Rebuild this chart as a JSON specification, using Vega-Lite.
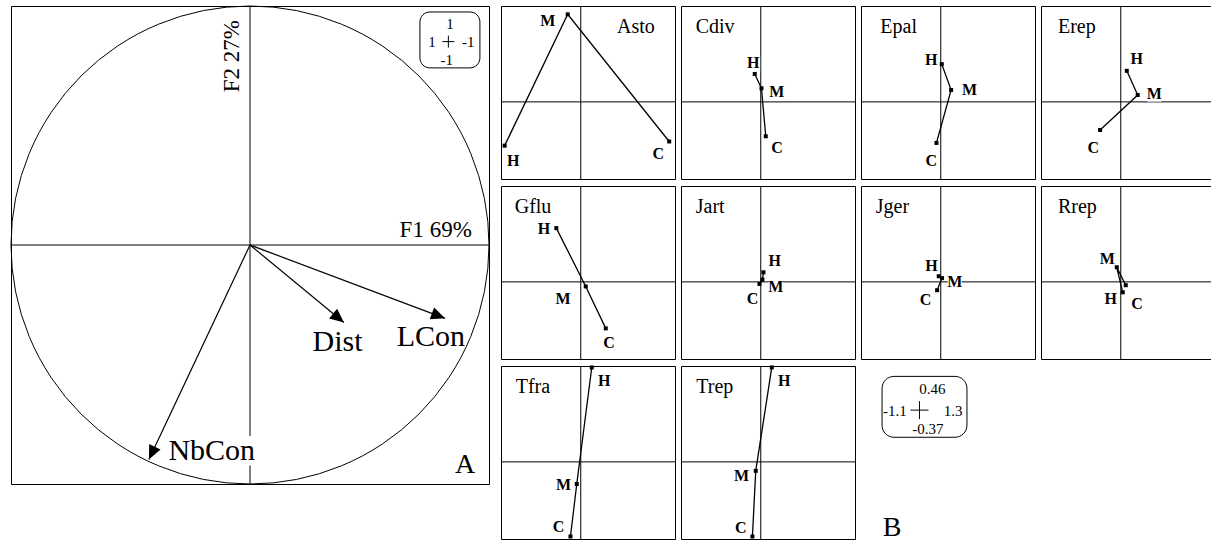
{
"$schema":"https://vega.github.io/schema/vega-lite/v6.json",
"padding":{"left":8,"top":3,"right":0,"bottom":0},
"config":{"view":{"stroke":"black","strokeWidth":1},"text":{"font":"Liberation Serif","color":"black"}},
"datasets":{
"arrows":[
{"v":"LCon","x":0.816,"y":-0.307,"lx":0.757,"ly":-0.387},
{"v":"Dist","x":0.393,"y":-0.324,"lx":0.366,"ly":-0.404},
{"v":"NbCon","x":-0.423,"y":-0.897,"lx":-0.16,"ly":-0.861}
],
"traj":[
{"sp":"Asto","o":1,"lab":"H","x":-1.05,"y":-0.21,"lx":-0.93,"ly":-0.283},
{"sp":"Asto","o":2,"lab":"M","x":-0.18,"y":0.42,"lx":-0.455,"ly":0.388},
{"sp":"Asto","o":3,"lab":"C","x":1.22,"y":-0.19,"lx":1.07,"ly":-0.248},
{"sp":"Cdiv","o":1,"lab":"H","x":-0.083,"y":0.134,"lx":-0.105,"ly":0.186},
{"sp":"Cdiv","o":2,"lab":"M","x":0.01,"y":0.065,"lx":0.221,"ly":0.046},
{"sp":"Cdiv","o":3,"lab":"C","x":0.069,"y":-0.165,"lx":0.226,"ly":-0.219},
{"sp":"Epal","o":1,"lab":"H","x":0.014,"y":0.181,"lx":-0.132,"ly":0.202},
{"sp":"Epal","o":2,"lab":"M","x":0.143,"y":0.057,"lx":0.396,"ly":0.056},
{"sp":"Epal","o":3,"lab":"C","x":-0.059,"y":-0.197,"lx":-0.132,"ly":-0.283},
{"sp":"Erep","o":1,"lab":"H","x":0.083,"y":0.149,"lx":0.221,"ly":0.205},
{"sp":"Erep","o":2,"lab":"M","x":0.234,"y":0.033,"lx":0.463,"ly":0.04},
{"sp":"Erep","o":3,"lab":"C","x":-0.285,"y":-0.135,"lx":-0.378,"ly":-0.219},
{"sp":"Gflu","o":1,"lab":"H","x":-0.337,"y":0.258,"lx":-0.506,"ly":0.253},
{"sp":"Gflu","o":2,"lab":"M","x":0.069,"y":-0.022,"lx":-0.244,"ly":-0.08},
{"sp":"Gflu","o":3,"lab":"C","x":0.345,"y":-0.223,"lx":0.39,"ly":-0.291},
{"sp":"Jart","o":1,"lab":"H","x":0.037,"y":0.046,"lx":0.193,"ly":0.098},
{"sp":"Jart","o":2,"lab":"M","x":0.023,"y":0.011,"lx":0.207,"ly":-0.024},
{"sp":"Jart","o":3,"lab":"C","x":-0.018,"y":-0.01,"lx":-0.114,"ly":-0.084},
{"sp":"Jger","o":1,"lab":"H","x":-0.028,"y":0.027,"lx":-0.128,"ly":0.075},
{"sp":"Jger","o":2,"lab":"M","x":0.017,"y":0.018,"lx":0.193,"ly":0.0},
{"sp":"Jger","o":3,"lab":"C","x":-0.05,"y":-0.04,"lx":-0.211,"ly":-0.085},
{"sp":"Rrep","o":1,"lab":"H","x":0.028,"y":-0.05,"lx":-0.138,"ly":-0.081},
{"sp":"Rrep","o":2,"lab":"M","x":-0.055,"y":0.07,"lx":-0.185,"ly":0.111},
{"sp":"Rrep","o":3,"lab":"C","x":0.069,"y":-0.016,"lx":0.225,"ly":-0.104},
{"sp":"Tfra","o":1,"lab":"H","x":0.152,"y":0.453,"lx":0.323,"ly":0.39},
{"sp":"Tfra","o":2,"lab":"M","x":-0.055,"y":-0.106,"lx":-0.239,"ly":-0.111},
{"sp":"Tfra","o":3,"lab":"C","x":-0.142,"y":-0.358,"lx":-0.308,"ly":-0.311},
{"sp":"Trep","o":1,"lab":"H","x":0.152,"y":0.453,"lx":0.323,"ly":0.39},
{"sp":"Trep","o":2,"lab":"M","x":-0.069,"y":-0.043,"lx":-0.266,"ly":-0.067},
{"sp":"Trep","o":3,"lab":"C","x":-0.115,"y":-0.358,"lx":-0.276,"ly":-0.317}
]},
"spacing":8,
"hconcat":[
{"width":478,"height":478,"layer":[
{"data":{"values":[{}]},"mark":{"type":"rule","color":"black","strokeWidth":1},"encoding":{"x":{"datum":0,"type":"quantitative","scale":{"domain":[-1,1],"nice":false,"zero":false},"axis":null}}},
{"data":{"values":[{}]},"mark":{"type":"rule","color":"black","strokeWidth":1},"encoding":{"y":{"datum":0,"type":"quantitative","scale":{"domain":[-1,1],"nice":false,"zero":false},"axis":null}}},
{"data":{"values":[{}]},"mark":{"type":"point","shape":"circle","size":228484,"filled":false,"stroke":"black","strokeWidth":1,"opacity":1},"encoding":{"x":{"datum":0,"type":"quantitative","scale":{"domain":[-1,1],"nice":false,"zero":false},"axis":null},"y":{"datum":0,"type":"quantitative","scale":{"domain":[-1,1],"nice":false,"zero":false},"axis":null}}},
{"data":{"name":"arrows"},"transform":[{"filter":"datum.v==='NbCon'"}],"mark":{"type":"point","shape":"M-1,-0.32L1,-0.32L1,0.32L-1,0.32Z","size":8464,"filled":true,"color":"white","opacity":1,"strokeWidth":0},"encoding":{"x":{"field":"lx","type":"quantitative","scale":{"domain":[-1,1],"nice":false,"zero":false},"axis":null},"y":{"field":"ly","type":"quantitative","scale":{"domain":[-1,1],"nice":false,"zero":false},"axis":null}}},
{"data":{"name":"arrows"},"mark":{"type":"rule","color":"black","strokeWidth":1.2},"encoding":{"x":{"field":"x","type":"quantitative","scale":{"domain":[-1,1],"nice":false,"zero":false},"axis":null},"y":{"field":"y","type":"quantitative","scale":{"domain":[-1,1],"nice":false,"zero":false},"axis":null},"x2":{"datum":0},"y2":{"datum":0}}},
{"data":{"name":"arrows"},"transform":[{"calculate":"90 - atan2(datum.y, datum.x)*180/PI","as":"ang"}],"mark":{"type":"point","shape":"M0,0L-0.45,1L0.45,1Z","size":784,"filled":true,"color":"black","opacity":1},"encoding":{"x":{"field":"x","type":"quantitative","scale":{"domain":[-1,1],"nice":false,"zero":false},"axis":null},"y":{"field":"y","type":"quantitative","scale":{"domain":[-1,1],"nice":false,"zero":false},"axis":null},"angle":{"field":"ang","type":"quantitative","scale":null}}},
{"data":{"name":"arrows"},"mark":{"type":"text","fontSize":30,"align":"center","baseline":"middle"},"encoding":{"x":{"field":"lx","type":"quantitative","scale":{"domain":[-1,1],"nice":false,"zero":false},"axis":null},"y":{"field":"ly","type":"quantitative","scale":{"domain":[-1,1],"nice":false,"zero":false},"axis":null},"text":{"field":"v","type":"nominal"}}},
{"data":{"values":[{}]},"mark":{"type":"text","text":"F1 69%","fontSize":23,"align":"right","baseline":"alphabetic"},"encoding":{"x":{"datum":0.928,"type":"quantitative","scale":{"domain":[-1,1],"nice":false,"zero":false},"axis":null},"y":{"datum":0.032,"type":"quantitative","scale":{"domain":[-1,1],"nice":false,"zero":false},"axis":null}}},
{"data":{"values":[{}]},"mark":{"type":"text","text":"F2 27%","fontSize":23,"align":"right","baseline":"alphabetic","angle":270},"encoding":{"x":{"datum":-0.045,"type":"quantitative","scale":{"domain":[-1,1],"nice":false,"zero":false},"axis":null},"y":{"datum":0.941,"type":"quantitative","scale":{"domain":[-1,1],"nice":false,"zero":false},"axis":null}}},
{"data":{"values":[{}]},"mark":{"type":"rect","cornerRadius":10,"fill":"white","stroke":"black","strokeWidth":1},"encoding":{"x":{"datum":0.711,"type":"quantitative","scale":{"domain":[-1,1],"nice":false,"zero":false},"axis":null},"x2":{"datum":0.962},"y":{"datum":0.975,"type":"quantitative","scale":{"domain":[-1,1],"nice":false,"zero":false},"axis":null},"y2":{"datum":0.741}}},
{"data":{"values":[{}]},"mark":{"type":"text","text":"1","fontSize":15,"align":"center","baseline":"middle"},"encoding":{"x":{"datum":0.837,"type":"quantitative","scale":{"domain":[-1,1],"nice":false,"zero":false},"axis":null},"y":{"datum":0.925,"type":"quantitative","scale":{"domain":[-1,1],"nice":false,"zero":false},"axis":null}}},
{"data":{"values":[{}]},"mark":{"type":"text","text":"1","fontSize":15,"align":"center","baseline":"middle"},"encoding":{"x":{"datum":0.762,"type":"quantitative","scale":{"domain":[-1,1],"nice":false,"zero":false},"axis":null},"y":{"datum":0.851,"type":"quantitative","scale":{"domain":[-1,1],"nice":false,"zero":false},"axis":null}}},
{"data":{"values":[{}]},"mark":{"type":"text","text":"-1","fontSize":15,"align":"center","baseline":"middle"},"encoding":{"x":{"datum":0.913,"type":"quantitative","scale":{"domain":[-1,1],"nice":false,"zero":false},"axis":null},"y":{"datum":0.851,"type":"quantitative","scale":{"domain":[-1,1],"nice":false,"zero":false},"axis":null}}},
{"data":{"values":[{}]},"mark":{"type":"text","text":"-1","fontSize":15,"align":"center","baseline":"middle"},"encoding":{"x":{"datum":0.823,"type":"quantitative","scale":{"domain":[-1,1],"nice":false,"zero":false},"axis":null},"y":{"datum":0.774,"type":"quantitative","scale":{"domain":[-1,1],"nice":false,"zero":false},"axis":null}}},
{"data":{"values":[{}]},"mark":{"type":"point","shape":"M-1,0L1,0M0,-1L0,1","size":144,"filled":false,"stroke":"black","strokeWidth":1,"opacity":1},"encoding":{"x":{"datum":0.83,"type":"quantitative","scale":{"domain":[-1,1],"nice":false,"zero":false},"axis":null},"y":{"datum":0.851,"type":"quantitative","scale":{"domain":[-1,1],"nice":false,"zero":false},"axis":null}}},
{"data":{"values":[{}]},"mark":{"type":"text","text":"A","fontSize":28,"align":"center","baseline":"alphabetic"},"encoding":{"x":{"datum":0.9,"type":"quantitative","scale":{"domain":[-1,1],"nice":false,"zero":false},"axis":null},"y":{"datum":-0.954,"type":"quantitative","scale":{"domain":[-1,1],"nice":false,"zero":false},"axis":null}}}
]},
{"columns":4,"spacing":{"row":7,"column":6},"bounds":"flush","concat":[
{"width":174,"height":173,"layer":[
{"data":{"values":[{}]},"mark":{"type":"rule","color":"black","strokeWidth":1},"encoding":{"x":{"datum":0,"type":"quantitative","scale":{"domain":[-1.1,1.3],"nice":false,"zero":false},"axis":null}}},
{"data":{"values":[{}]},"mark":{"type":"rule","color":"black","strokeWidth":1},"encoding":{"y":{"datum":0,"type":"quantitative","scale":{"domain":[-0.37,0.46],"nice":false,"zero":false},"axis":null}}},
{"data":{"name":"traj"},"transform":[{"filter":"datum.sp==='Asto'"}],"mark":{"type":"point","shape":"M-1,-1.15L1,-1.15L1,1.15L-1,1.15Z","size":196,"filled":true,"color":"white","opacity":1,"strokeWidth":0},"encoding":{"x":{"field":"lx","type":"quantitative","scale":{"domain":[-1.1,1.3],"nice":false,"zero":false},"axis":null},"y":{"field":"ly","type":"quantitative","scale":{"domain":[-0.37,0.46],"nice":false,"zero":false},"axis":null}}},
{"data":{"name":"traj"},"transform":[{"filter":"datum.sp==='Asto'"}],"mark":{"type":"line","color":"black","strokeWidth":1.3},"encoding":{"x":{"field":"x","type":"quantitative","scale":{"domain":[-1.1,1.3],"nice":false,"zero":false},"axis":null},"y":{"field":"y","type":"quantitative","scale":{"domain":[-0.37,0.46],"nice":false,"zero":false},"axis":null},"order":{"field":"o","type":"quantitative"}}},
{"data":{"name":"traj"},"transform":[{"filter":"datum.sp==='Asto'"}],"mark":{"type":"point","shape":"square","size":16,"filled":true,"color":"black","opacity":1},"encoding":{"x":{"field":"x","type":"quantitative","scale":{"domain":[-1.1,1.3],"nice":false,"zero":false},"axis":null},"y":{"field":"y","type":"quantitative","scale":{"domain":[-0.37,0.46],"nice":false,"zero":false},"axis":null}}},
{"data":{"name":"traj"},"transform":[{"filter":"datum.sp==='Asto'"}],"mark":{"type":"text","fontSize":16,"fontWeight":"bold","align":"center","baseline":"middle"},"encoding":{"x":{"field":"lx","type":"quantitative","scale":{"domain":[-1.1,1.3],"nice":false,"zero":false},"axis":null},"y":{"field":"ly","type":"quantitative","scale":{"domain":[-0.37,0.46],"nice":false,"zero":false},"axis":null},"text":{"field":"lab","type":"nominal"}}},
{"data":{"values":[{}]},"mark":{"type":"text","text":"Asto","fontSize":20,"align":"left","baseline":"alphabetic"},"encoding":{"x":{"datum":0.5,"type":"quantitative","scale":{"domain":[-1.1,1.3],"nice":false,"zero":false},"axis":null},"y":{"datum":0.33,"type":"quantitative","scale":{"domain":[-0.37,0.46],"nice":false,"zero":false},"axis":null}}}
]},
{"width":174,"height":173,"layer":[
{"data":{"values":[{}]},"mark":{"type":"rule","color":"black","strokeWidth":1},"encoding":{"x":{"datum":0,"type":"quantitative","scale":{"domain":[-1.1,1.3],"nice":false,"zero":false},"axis":null}}},
{"data":{"values":[{}]},"mark":{"type":"rule","color":"black","strokeWidth":1},"encoding":{"y":{"datum":0,"type":"quantitative","scale":{"domain":[-0.37,0.46],"nice":false,"zero":false},"axis":null}}},
{"data":{"name":"traj"},"transform":[{"filter":"datum.sp==='Cdiv'"}],"mark":{"type":"point","shape":"M-1,-1.15L1,-1.15L1,1.15L-1,1.15Z","size":196,"filled":true,"color":"white","opacity":1,"strokeWidth":0},"encoding":{"x":{"field":"lx","type":"quantitative","scale":{"domain":[-1.1,1.3],"nice":false,"zero":false},"axis":null},"y":{"field":"ly","type":"quantitative","scale":{"domain":[-0.37,0.46],"nice":false,"zero":false},"axis":null}}},
{"data":{"name":"traj"},"transform":[{"filter":"datum.sp==='Cdiv'"}],"mark":{"type":"line","color":"black","strokeWidth":1.3},"encoding":{"x":{"field":"x","type":"quantitative","scale":{"domain":[-1.1,1.3],"nice":false,"zero":false},"axis":null},"y":{"field":"y","type":"quantitative","scale":{"domain":[-0.37,0.46],"nice":false,"zero":false},"axis":null},"order":{"field":"o","type":"quantitative"}}},
{"data":{"name":"traj"},"transform":[{"filter":"datum.sp==='Cdiv'"}],"mark":{"type":"point","shape":"square","size":16,"filled":true,"color":"black","opacity":1},"encoding":{"x":{"field":"x","type":"quantitative","scale":{"domain":[-1.1,1.3],"nice":false,"zero":false},"axis":null},"y":{"field":"y","type":"quantitative","scale":{"domain":[-0.37,0.46],"nice":false,"zero":false},"axis":null}}},
{"data":{"name":"traj"},"transform":[{"filter":"datum.sp==='Cdiv'"}],"mark":{"type":"text","fontSize":16,"fontWeight":"bold","align":"center","baseline":"middle"},"encoding":{"x":{"field":"lx","type":"quantitative","scale":{"domain":[-1.1,1.3],"nice":false,"zero":false},"axis":null},"y":{"field":"ly","type":"quantitative","scale":{"domain":[-0.37,0.46],"nice":false,"zero":false},"axis":null},"text":{"field":"lab","type":"nominal"}}},
{"data":{"values":[{}]},"mark":{"type":"text","text":"Cdiv","fontSize":20,"align":"left","baseline":"alphabetic"},"encoding":{"x":{"datum":-0.897,"type":"quantitative","scale":{"domain":[-1.1,1.3],"nice":false,"zero":false},"axis":null},"y":{"datum":0.33,"type":"quantitative","scale":{"domain":[-0.37,0.46],"nice":false,"zero":false},"axis":null}}}
]},
{"width":174,"height":173,"layer":[
{"data":{"values":[{}]},"mark":{"type":"rule","color":"black","strokeWidth":1},"encoding":{"x":{"datum":0,"type":"quantitative","scale":{"domain":[-1.1,1.3],"nice":false,"zero":false},"axis":null}}},
{"data":{"values":[{}]},"mark":{"type":"rule","color":"black","strokeWidth":1},"encoding":{"y":{"datum":0,"type":"quantitative","scale":{"domain":[-0.37,0.46],"nice":false,"zero":false},"axis":null}}},
{"data":{"name":"traj"},"transform":[{"filter":"datum.sp==='Epal'"}],"mark":{"type":"point","shape":"M-1,-1.15L1,-1.15L1,1.15L-1,1.15Z","size":196,"filled":true,"color":"white","opacity":1,"strokeWidth":0},"encoding":{"x":{"field":"lx","type":"quantitative","scale":{"domain":[-1.1,1.3],"nice":false,"zero":false},"axis":null},"y":{"field":"ly","type":"quantitative","scale":{"domain":[-0.37,0.46],"nice":false,"zero":false},"axis":null}}},
{"data":{"name":"traj"},"transform":[{"filter":"datum.sp==='Epal'"}],"mark":{"type":"line","color":"black","strokeWidth":1.3},"encoding":{"x":{"field":"x","type":"quantitative","scale":{"domain":[-1.1,1.3],"nice":false,"zero":false},"axis":null},"y":{"field":"y","type":"quantitative","scale":{"domain":[-0.37,0.46],"nice":false,"zero":false},"axis":null},"order":{"field":"o","type":"quantitative"}}},
{"data":{"name":"traj"},"transform":[{"filter":"datum.sp==='Epal'"}],"mark":{"type":"point","shape":"square","size":16,"filled":true,"color":"black","opacity":1},"encoding":{"x":{"field":"x","type":"quantitative","scale":{"domain":[-1.1,1.3],"nice":false,"zero":false},"axis":null},"y":{"field":"y","type":"quantitative","scale":{"domain":[-0.37,0.46],"nice":false,"zero":false},"axis":null}}},
{"data":{"name":"traj"},"transform":[{"filter":"datum.sp==='Epal'"}],"mark":{"type":"text","fontSize":16,"fontWeight":"bold","align":"center","baseline":"middle"},"encoding":{"x":{"field":"lx","type":"quantitative","scale":{"domain":[-1.1,1.3],"nice":false,"zero":false},"axis":null},"y":{"field":"ly","type":"quantitative","scale":{"domain":[-0.37,0.46],"nice":false,"zero":false},"axis":null},"text":{"field":"lab","type":"nominal"}}},
{"data":{"values":[{}]},"mark":{"type":"text","text":"Epal","fontSize":20,"align":"left","baseline":"alphabetic"},"encoding":{"x":{"datum":-0.834,"type":"quantitative","scale":{"domain":[-1.1,1.3],"nice":false,"zero":false},"axis":null},"y":{"datum":0.33,"type":"quantitative","scale":{"domain":[-0.37,0.46],"nice":false,"zero":false},"axis":null}}}
]},
{"width":174,"height":173,"layer":[
{"data":{"values":[{}]},"mark":{"type":"rule","color":"black","strokeWidth":1},"encoding":{"x":{"datum":0,"type":"quantitative","scale":{"domain":[-1.1,1.3],"nice":false,"zero":false},"axis":null}}},
{"data":{"values":[{}]},"mark":{"type":"rule","color":"black","strokeWidth":1},"encoding":{"y":{"datum":0,"type":"quantitative","scale":{"domain":[-0.37,0.46],"nice":false,"zero":false},"axis":null}}},
{"data":{"name":"traj"},"transform":[{"filter":"datum.sp==='Erep'"}],"mark":{"type":"point","shape":"M-1,-1.15L1,-1.15L1,1.15L-1,1.15Z","size":196,"filled":true,"color":"white","opacity":1,"strokeWidth":0},"encoding":{"x":{"field":"lx","type":"quantitative","scale":{"domain":[-1.1,1.3],"nice":false,"zero":false},"axis":null},"y":{"field":"ly","type":"quantitative","scale":{"domain":[-0.37,0.46],"nice":false,"zero":false},"axis":null}}},
{"data":{"name":"traj"},"transform":[{"filter":"datum.sp==='Erep'"}],"mark":{"type":"line","color":"black","strokeWidth":1.3},"encoding":{"x":{"field":"x","type":"quantitative","scale":{"domain":[-1.1,1.3],"nice":false,"zero":false},"axis":null},"y":{"field":"y","type":"quantitative","scale":{"domain":[-0.37,0.46],"nice":false,"zero":false},"axis":null},"order":{"field":"o","type":"quantitative"}}},
{"data":{"name":"traj"},"transform":[{"filter":"datum.sp==='Erep'"}],"mark":{"type":"point","shape":"square","size":16,"filled":true,"color":"black","opacity":1},"encoding":{"x":{"field":"x","type":"quantitative","scale":{"domain":[-1.1,1.3],"nice":false,"zero":false},"axis":null},"y":{"field":"y","type":"quantitative","scale":{"domain":[-0.37,0.46],"nice":false,"zero":false},"axis":null}}},
{"data":{"name":"traj"},"transform":[{"filter":"datum.sp==='Erep'"}],"mark":{"type":"text","fontSize":16,"fontWeight":"bold","align":"center","baseline":"middle"},"encoding":{"x":{"field":"lx","type":"quantitative","scale":{"domain":[-1.1,1.3],"nice":false,"zero":false},"axis":null},"y":{"field":"ly","type":"quantitative","scale":{"domain":[-0.37,0.46],"nice":false,"zero":false},"axis":null},"text":{"field":"lab","type":"nominal"}}},
{"data":{"values":[{}]},"mark":{"type":"text","text":"Erep","fontSize":20,"align":"left","baseline":"alphabetic"},"encoding":{"x":{"datum":-0.866,"type":"quantitative","scale":{"domain":[-1.1,1.3],"nice":false,"zero":false},"axis":null},"y":{"datum":0.33,"type":"quantitative","scale":{"domain":[-0.37,0.46],"nice":false,"zero":false},"axis":null}}}
]},
{"width":174,"height":173,"layer":[
{"data":{"values":[{}]},"mark":{"type":"rule","color":"black","strokeWidth":1},"encoding":{"x":{"datum":0,"type":"quantitative","scale":{"domain":[-1.1,1.3],"nice":false,"zero":false},"axis":null}}},
{"data":{"values":[{}]},"mark":{"type":"rule","color":"black","strokeWidth":1},"encoding":{"y":{"datum":0,"type":"quantitative","scale":{"domain":[-0.37,0.46],"nice":false,"zero":false},"axis":null}}},
{"data":{"name":"traj"},"transform":[{"filter":"datum.sp==='Gflu'"}],"mark":{"type":"point","shape":"M-1,-1.15L1,-1.15L1,1.15L-1,1.15Z","size":196,"filled":true,"color":"white","opacity":1,"strokeWidth":0},"encoding":{"x":{"field":"lx","type":"quantitative","scale":{"domain":[-1.1,1.3],"nice":false,"zero":false},"axis":null},"y":{"field":"ly","type":"quantitative","scale":{"domain":[-0.37,0.46],"nice":false,"zero":false},"axis":null}}},
{"data":{"name":"traj"},"transform":[{"filter":"datum.sp==='Gflu'"}],"mark":{"type":"line","color":"black","strokeWidth":1.3},"encoding":{"x":{"field":"x","type":"quantitative","scale":{"domain":[-1.1,1.3],"nice":false,"zero":false},"axis":null},"y":{"field":"y","type":"quantitative","scale":{"domain":[-0.37,0.46],"nice":false,"zero":false},"axis":null},"order":{"field":"o","type":"quantitative"}}},
{"data":{"name":"traj"},"transform":[{"filter":"datum.sp==='Gflu'"}],"mark":{"type":"point","shape":"square","size":16,"filled":true,"color":"black","opacity":1},"encoding":{"x":{"field":"x","type":"quantitative","scale":{"domain":[-1.1,1.3],"nice":false,"zero":false},"axis":null},"y":{"field":"y","type":"quantitative","scale":{"domain":[-0.37,0.46],"nice":false,"zero":false},"axis":null}}},
{"data":{"name":"traj"},"transform":[{"filter":"datum.sp==='Gflu'"}],"mark":{"type":"text","fontSize":16,"fontWeight":"bold","align":"center","baseline":"middle"},"encoding":{"x":{"field":"lx","type":"quantitative","scale":{"domain":[-1.1,1.3],"nice":false,"zero":false},"axis":null},"y":{"field":"ly","type":"quantitative","scale":{"domain":[-0.37,0.46],"nice":false,"zero":false},"axis":null},"text":{"field":"lab","type":"nominal"}}},
{"data":{"values":[{}]},"mark":{"type":"text","text":"Gflu","fontSize":20,"align":"left","baseline":"alphabetic"},"encoding":{"x":{"datum":-0.911,"type":"quantitative","scale":{"domain":[-1.1,1.3],"nice":false,"zero":false},"axis":null},"y":{"datum":0.33,"type":"quantitative","scale":{"domain":[-0.37,0.46],"nice":false,"zero":false},"axis":null}}}
]},
{"width":174,"height":173,"layer":[
{"data":{"values":[{}]},"mark":{"type":"rule","color":"black","strokeWidth":1},"encoding":{"x":{"datum":0,"type":"quantitative","scale":{"domain":[-1.1,1.3],"nice":false,"zero":false},"axis":null}}},
{"data":{"values":[{}]},"mark":{"type":"rule","color":"black","strokeWidth":1},"encoding":{"y":{"datum":0,"type":"quantitative","scale":{"domain":[-0.37,0.46],"nice":false,"zero":false},"axis":null}}},
{"data":{"name":"traj"},"transform":[{"filter":"datum.sp==='Jart'"}],"mark":{"type":"point","shape":"M-1,-1.15L1,-1.15L1,1.15L-1,1.15Z","size":196,"filled":true,"color":"white","opacity":1,"strokeWidth":0},"encoding":{"x":{"field":"lx","type":"quantitative","scale":{"domain":[-1.1,1.3],"nice":false,"zero":false},"axis":null},"y":{"field":"ly","type":"quantitative","scale":{"domain":[-0.37,0.46],"nice":false,"zero":false},"axis":null}}},
{"data":{"name":"traj"},"transform":[{"filter":"datum.sp==='Jart'"}],"mark":{"type":"line","color":"black","strokeWidth":1.3},"encoding":{"x":{"field":"x","type":"quantitative","scale":{"domain":[-1.1,1.3],"nice":false,"zero":false},"axis":null},"y":{"field":"y","type":"quantitative","scale":{"domain":[-0.37,0.46],"nice":false,"zero":false},"axis":null},"order":{"field":"o","type":"quantitative"}}},
{"data":{"name":"traj"},"transform":[{"filter":"datum.sp==='Jart'"}],"mark":{"type":"point","shape":"square","size":16,"filled":true,"color":"black","opacity":1},"encoding":{"x":{"field":"x","type":"quantitative","scale":{"domain":[-1.1,1.3],"nice":false,"zero":false},"axis":null},"y":{"field":"y","type":"quantitative","scale":{"domain":[-0.37,0.46],"nice":false,"zero":false},"axis":null}}},
{"data":{"name":"traj"},"transform":[{"filter":"datum.sp==='Jart'"}],"mark":{"type":"text","fontSize":16,"fontWeight":"bold","align":"center","baseline":"middle"},"encoding":{"x":{"field":"lx","type":"quantitative","scale":{"domain":[-1.1,1.3],"nice":false,"zero":false},"axis":null},"y":{"field":"ly","type":"quantitative","scale":{"domain":[-0.37,0.46],"nice":false,"zero":false},"axis":null},"text":{"field":"lab","type":"nominal"}}},
{"data":{"values":[{}]},"mark":{"type":"text","text":"Jart","fontSize":20,"align":"left","baseline":"alphabetic"},"encoding":{"x":{"datum":-0.897,"type":"quantitative","scale":{"domain":[-1.1,1.3],"nice":false,"zero":false},"axis":null},"y":{"datum":0.33,"type":"quantitative","scale":{"domain":[-0.37,0.46],"nice":false,"zero":false},"axis":null}}}
]},
{"width":174,"height":173,"layer":[
{"data":{"values":[{}]},"mark":{"type":"rule","color":"black","strokeWidth":1},"encoding":{"x":{"datum":0,"type":"quantitative","scale":{"domain":[-1.1,1.3],"nice":false,"zero":false},"axis":null}}},
{"data":{"values":[{}]},"mark":{"type":"rule","color":"black","strokeWidth":1},"encoding":{"y":{"datum":0,"type":"quantitative","scale":{"domain":[-0.37,0.46],"nice":false,"zero":false},"axis":null}}},
{"data":{"name":"traj"},"transform":[{"filter":"datum.sp==='Jger'"}],"mark":{"type":"point","shape":"M-1,-1.15L1,-1.15L1,1.15L-1,1.15Z","size":196,"filled":true,"color":"white","opacity":1,"strokeWidth":0},"encoding":{"x":{"field":"lx","type":"quantitative","scale":{"domain":[-1.1,1.3],"nice":false,"zero":false},"axis":null},"y":{"field":"ly","type":"quantitative","scale":{"domain":[-0.37,0.46],"nice":false,"zero":false},"axis":null}}},
{"data":{"name":"traj"},"transform":[{"filter":"datum.sp==='Jger'"}],"mark":{"type":"line","color":"black","strokeWidth":1.3},"encoding":{"x":{"field":"x","type":"quantitative","scale":{"domain":[-1.1,1.3],"nice":false,"zero":false},"axis":null},"y":{"field":"y","type":"quantitative","scale":{"domain":[-0.37,0.46],"nice":false,"zero":false},"axis":null},"order":{"field":"o","type":"quantitative"}}},
{"data":{"name":"traj"},"transform":[{"filter":"datum.sp==='Jger'"}],"mark":{"type":"point","shape":"square","size":16,"filled":true,"color":"black","opacity":1},"encoding":{"x":{"field":"x","type":"quantitative","scale":{"domain":[-1.1,1.3],"nice":false,"zero":false},"axis":null},"y":{"field":"y","type":"quantitative","scale":{"domain":[-0.37,0.46],"nice":false,"zero":false},"axis":null}}},
{"data":{"name":"traj"},"transform":[{"filter":"datum.sp==='Jger'"}],"mark":{"type":"text","fontSize":16,"fontWeight":"bold","align":"center","baseline":"middle"},"encoding":{"x":{"field":"lx","type":"quantitative","scale":{"domain":[-1.1,1.3],"nice":false,"zero":false},"axis":null},"y":{"field":"ly","type":"quantitative","scale":{"domain":[-0.37,0.46],"nice":false,"zero":false},"axis":null},"text":{"field":"lab","type":"nominal"}}},
{"data":{"values":[{}]},"mark":{"type":"text","text":"Jger","fontSize":20,"align":"left","baseline":"alphabetic"},"encoding":{"x":{"datum":-0.897,"type":"quantitative","scale":{"domain":[-1.1,1.3],"nice":false,"zero":false},"axis":null},"y":{"datum":0.33,"type":"quantitative","scale":{"domain":[-0.37,0.46],"nice":false,"zero":false},"axis":null}}}
]},
{"width":174,"height":173,"layer":[
{"data":{"values":[{}]},"mark":{"type":"rule","color":"black","strokeWidth":1},"encoding":{"x":{"datum":0,"type":"quantitative","scale":{"domain":[-1.1,1.3],"nice":false,"zero":false},"axis":null}}},
{"data":{"values":[{}]},"mark":{"type":"rule","color":"black","strokeWidth":1},"encoding":{"y":{"datum":0,"type":"quantitative","scale":{"domain":[-0.37,0.46],"nice":false,"zero":false},"axis":null}}},
{"data":{"name":"traj"},"transform":[{"filter":"datum.sp==='Rrep'"}],"mark":{"type":"point","shape":"M-1,-1.15L1,-1.15L1,1.15L-1,1.15Z","size":196,"filled":true,"color":"white","opacity":1,"strokeWidth":0},"encoding":{"x":{"field":"lx","type":"quantitative","scale":{"domain":[-1.1,1.3],"nice":false,"zero":false},"axis":null},"y":{"field":"ly","type":"quantitative","scale":{"domain":[-0.37,0.46],"nice":false,"zero":false},"axis":null}}},
{"data":{"name":"traj"},"transform":[{"filter":"datum.sp==='Rrep'"}],"mark":{"type":"line","color":"black","strokeWidth":1.3},"encoding":{"x":{"field":"x","type":"quantitative","scale":{"domain":[-1.1,1.3],"nice":false,"zero":false},"axis":null},"y":{"field":"y","type":"quantitative","scale":{"domain":[-0.37,0.46],"nice":false,"zero":false},"axis":null},"order":{"field":"o","type":"quantitative"}}},
{"data":{"name":"traj"},"transform":[{"filter":"datum.sp==='Rrep'"}],"mark":{"type":"point","shape":"square","size":16,"filled":true,"color":"black","opacity":1},"encoding":{"x":{"field":"x","type":"quantitative","scale":{"domain":[-1.1,1.3],"nice":false,"zero":false},"axis":null},"y":{"field":"y","type":"quantitative","scale":{"domain":[-0.37,0.46],"nice":false,"zero":false},"axis":null}}},
{"data":{"name":"traj"},"transform":[{"filter":"datum.sp==='Rrep'"}],"mark":{"type":"text","fontSize":16,"fontWeight":"bold","align":"center","baseline":"middle"},"encoding":{"x":{"field":"lx","type":"quantitative","scale":{"domain":[-1.1,1.3],"nice":false,"zero":false},"axis":null},"y":{"field":"ly","type":"quantitative","scale":{"domain":[-0.37,0.46],"nice":false,"zero":false},"axis":null},"text":{"field":"lab","type":"nominal"}}},
{"data":{"values":[{}]},"mark":{"type":"text","text":"Rrep","fontSize":20,"align":"left","baseline":"alphabetic"},"encoding":{"x":{"datum":-0.866,"type":"quantitative","scale":{"domain":[-1.1,1.3],"nice":false,"zero":false},"axis":null},"y":{"datum":0.33,"type":"quantitative","scale":{"domain":[-0.37,0.46],"nice":false,"zero":false},"axis":null}}}
]},
{"width":174,"height":173,"layer":[
{"data":{"values":[{}]},"mark":{"type":"rule","color":"black","strokeWidth":1},"encoding":{"x":{"datum":0,"type":"quantitative","scale":{"domain":[-1.1,1.3],"nice":false,"zero":false},"axis":null}}},
{"data":{"values":[{}]},"mark":{"type":"rule","color":"black","strokeWidth":1},"encoding":{"y":{"datum":0,"type":"quantitative","scale":{"domain":[-0.37,0.46],"nice":false,"zero":false},"axis":null}}},
{"data":{"name":"traj"},"transform":[{"filter":"datum.sp==='Tfra'"}],"mark":{"type":"point","shape":"M-1,-1.15L1,-1.15L1,1.15L-1,1.15Z","size":196,"filled":true,"color":"white","opacity":1,"strokeWidth":0},"encoding":{"x":{"field":"lx","type":"quantitative","scale":{"domain":[-1.1,1.3],"nice":false,"zero":false},"axis":null},"y":{"field":"ly","type":"quantitative","scale":{"domain":[-0.37,0.46],"nice":false,"zero":false},"axis":null}}},
{"data":{"name":"traj"},"transform":[{"filter":"datum.sp==='Tfra'"}],"mark":{"type":"line","color":"black","strokeWidth":1.3},"encoding":{"x":{"field":"x","type":"quantitative","scale":{"domain":[-1.1,1.3],"nice":false,"zero":false},"axis":null},"y":{"field":"y","type":"quantitative","scale":{"domain":[-0.37,0.46],"nice":false,"zero":false},"axis":null},"order":{"field":"o","type":"quantitative"}}},
{"data":{"name":"traj"},"transform":[{"filter":"datum.sp==='Tfra'"}],"mark":{"type":"point","shape":"square","size":16,"filled":true,"color":"black","opacity":1},"encoding":{"x":{"field":"x","type":"quantitative","scale":{"domain":[-1.1,1.3],"nice":false,"zero":false},"axis":null},"y":{"field":"y","type":"quantitative","scale":{"domain":[-0.37,0.46],"nice":false,"zero":false},"axis":null}}},
{"data":{"name":"traj"},"transform":[{"filter":"datum.sp==='Tfra'"}],"mark":{"type":"text","fontSize":16,"fontWeight":"bold","align":"center","baseline":"middle"},"encoding":{"x":{"field":"lx","type":"quantitative","scale":{"domain":[-1.1,1.3],"nice":false,"zero":false},"axis":null},"y":{"field":"ly","type":"quantitative","scale":{"domain":[-0.37,0.46],"nice":false,"zero":false},"axis":null},"text":{"field":"lab","type":"nominal"}}},
{"data":{"values":[{}]},"mark":{"type":"text","text":"Tfra","fontSize":20,"align":"left","baseline":"alphabetic"},"encoding":{"x":{"datum":-0.897,"type":"quantitative","scale":{"domain":[-1.1,1.3],"nice":false,"zero":false},"axis":null},"y":{"datum":0.33,"type":"quantitative","scale":{"domain":[-0.37,0.46],"nice":false,"zero":false},"axis":null}}}
]},
{"width":174,"height":173,"layer":[
{"data":{"values":[{}]},"mark":{"type":"rule","color":"black","strokeWidth":1},"encoding":{"x":{"datum":0,"type":"quantitative","scale":{"domain":[-1.1,1.3],"nice":false,"zero":false},"axis":null}}},
{"data":{"values":[{}]},"mark":{"type":"rule","color":"black","strokeWidth":1},"encoding":{"y":{"datum":0,"type":"quantitative","scale":{"domain":[-0.37,0.46],"nice":false,"zero":false},"axis":null}}},
{"data":{"name":"traj"},"transform":[{"filter":"datum.sp==='Trep'"}],"mark":{"type":"point","shape":"M-1,-1.15L1,-1.15L1,1.15L-1,1.15Z","size":196,"filled":true,"color":"white","opacity":1,"strokeWidth":0},"encoding":{"x":{"field":"lx","type":"quantitative","scale":{"domain":[-1.1,1.3],"nice":false,"zero":false},"axis":null},"y":{"field":"ly","type":"quantitative","scale":{"domain":[-0.37,0.46],"nice":false,"zero":false},"axis":null}}},
{"data":{"name":"traj"},"transform":[{"filter":"datum.sp==='Trep'"}],"mark":{"type":"line","color":"black","strokeWidth":1.3},"encoding":{"x":{"field":"x","type":"quantitative","scale":{"domain":[-1.1,1.3],"nice":false,"zero":false},"axis":null},"y":{"field":"y","type":"quantitative","scale":{"domain":[-0.37,0.46],"nice":false,"zero":false},"axis":null},"order":{"field":"o","type":"quantitative"}}},
{"data":{"name":"traj"},"transform":[{"filter":"datum.sp==='Trep'"}],"mark":{"type":"point","shape":"square","size":16,"filled":true,"color":"black","opacity":1},"encoding":{"x":{"field":"x","type":"quantitative","scale":{"domain":[-1.1,1.3],"nice":false,"zero":false},"axis":null},"y":{"field":"y","type":"quantitative","scale":{"domain":[-0.37,0.46],"nice":false,"zero":false},"axis":null}}},
{"data":{"name":"traj"},"transform":[{"filter":"datum.sp==='Trep'"}],"mark":{"type":"text","fontSize":16,"fontWeight":"bold","align":"center","baseline":"middle"},"encoding":{"x":{"field":"lx","type":"quantitative","scale":{"domain":[-1.1,1.3],"nice":false,"zero":false},"axis":null},"y":{"field":"ly","type":"quantitative","scale":{"domain":[-0.37,0.46],"nice":false,"zero":false},"axis":null},"text":{"field":"lab","type":"nominal"}}},
{"data":{"values":[{}]},"mark":{"type":"text","text":"Trep","fontSize":20,"align":"left","baseline":"alphabetic"},"encoding":{"x":{"datum":-0.889,"type":"quantitative","scale":{"domain":[-1.1,1.3],"nice":false,"zero":false},"axis":null},"y":{"datum":0.33,"type":"quantitative","scale":{"domain":[-0.37,0.46],"nice":false,"zero":false},"axis":null}}}
]},
{"width":174,"height":173,"view":{"stroke":null},"layer":[
{"data":{"values":[{}]},"mark":{"type":"rect","cornerRadius":12,"fill":"white","stroke":"black","strokeWidth":1},"encoding":{"x":{"datum":0.121,"type":"quantitative","scale":{"domain":[0,1],"nice":false,"zero":false},"axis":null},"x2":{"datum":0.609},"y":{"datum":0.94,"type":"quantitative","scale":{"domain":[0,1],"nice":false,"zero":false},"axis":null},"y2":{"datum":0.588}}},
{"data":{"values":[{}]},"mark":{"type":"text","text":"0.46","fontSize":15,"align":"center","baseline":"middle"},"encoding":{"x":{"datum":0.41,"type":"quantitative","scale":{"domain":[0,1],"nice":false,"zero":false},"axis":null},"y":{"datum":0.865,"type":"quantitative","scale":{"domain":[0,1],"nice":false,"zero":false},"axis":null}}},
{"data":{"values":[{}]},"mark":{"type":"text","text":"-1.1","fontSize":15,"align":"center","baseline":"middle"},"encoding":{"x":{"datum":0.194,"type":"quantitative","scale":{"domain":[0,1],"nice":false,"zero":false},"axis":null},"y":{"datum":0.74,"type":"quantitative","scale":{"domain":[0,1],"nice":false,"zero":false},"axis":null}}},
{"data":{"values":[{}]},"mark":{"type":"text","text":"1.3","fontSize":15,"align":"center","baseline":"middle"},"encoding":{"x":{"datum":0.529,"type":"quantitative","scale":{"domain":[0,1],"nice":false,"zero":false},"axis":null},"y":{"datum":0.74,"type":"quantitative","scale":{"domain":[0,1],"nice":false,"zero":false},"axis":null}}},
{"data":{"values":[{}]},"mark":{"type":"text","text":"-0.37","fontSize":15,"align":"center","baseline":"middle"},"encoding":{"x":{"datum":0.385,"type":"quantitative","scale":{"domain":[0,1],"nice":false,"zero":false},"axis":null},"y":{"datum":0.634,"type":"quantitative","scale":{"domain":[0,1],"nice":false,"zero":false},"axis":null}}},
{"data":{"values":[{}]},"mark":{"type":"point","shape":"M-1,0L1,0M0,-1L0,1","size":324,"filled":false,"stroke":"black","strokeWidth":1,"opacity":1},"encoding":{"x":{"datum":0.336,"type":"quantitative","scale":{"domain":[0,1],"nice":false,"zero":false},"axis":null},"y":{"datum":0.745,"type":"quantitative","scale":{"domain":[0,1],"nice":false,"zero":false},"axis":null}}},
{"data":{"values":[{}]},"mark":{"type":"text","text":"B","fontSize":28,"align":"center","baseline":"alphabetic"},"encoding":{"x":{"datum":0.178,"type":"quantitative","scale":{"domain":[0,1],"nice":false,"zero":false},"axis":null},"y":{"datum":0.017,"type":"quantitative","scale":{"domain":[0,1],"nice":false,"zero":false},"axis":null}}}
]}
]}
]
}
